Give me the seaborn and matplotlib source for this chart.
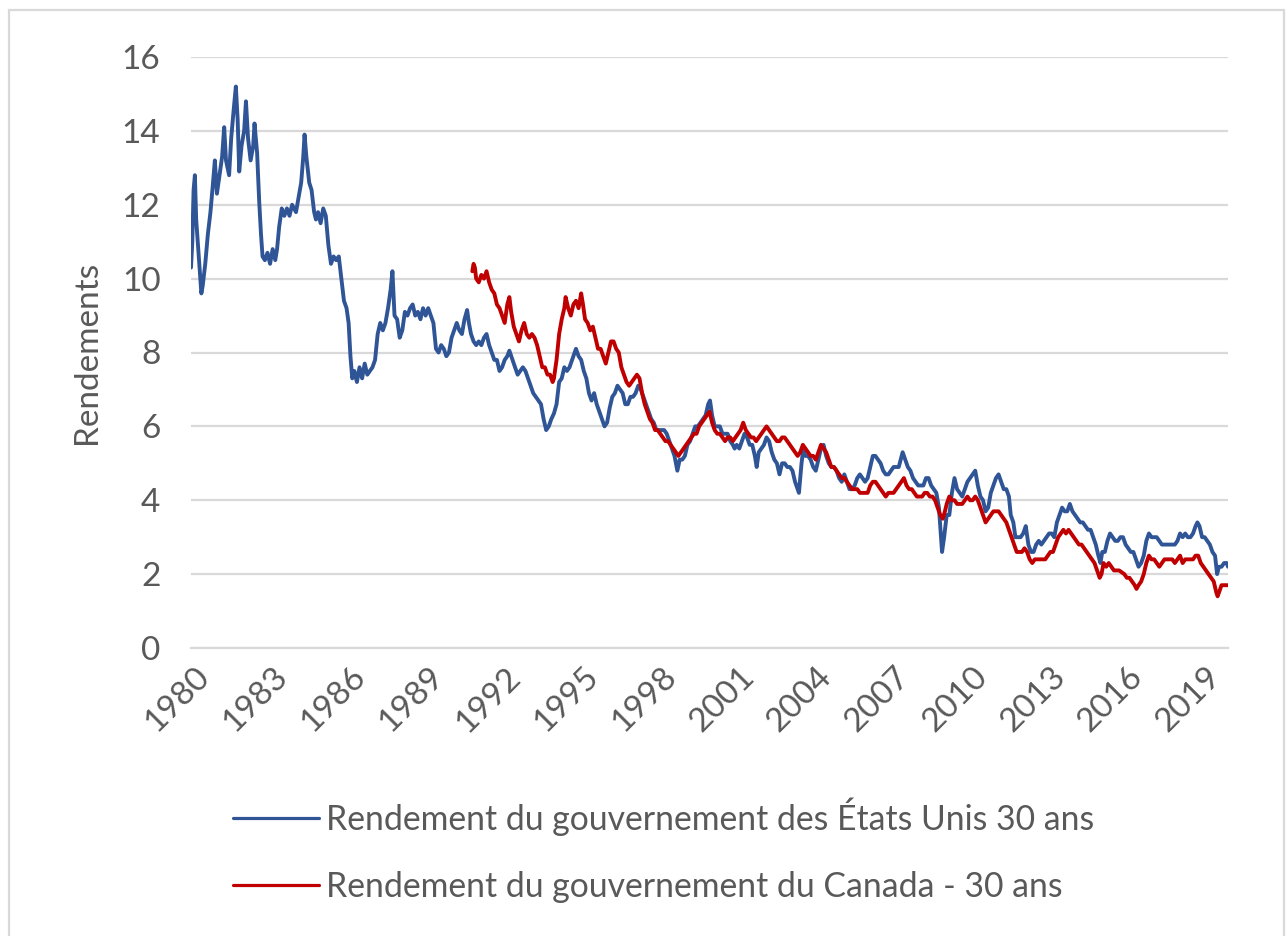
import matplotlib
matplotlib.use("Agg")
import matplotlib.pyplot as plt
import matplotlib.transforms as mtransforms
from matplotlib.patches import Rectangle
import seaborn as sns
import pandas as pd

# ---------------- data ----------------
us_label = "Rendement du gouvernement des États Unis 30 ans"
ca_label = "Rendement du gouvernement du Canada - 30 ans"

us_years = [
    1980.00, 1980.05, 1980.10, 1980.15, 1980.20, 1980.30, 1980.40, 1980.45, 1980.55, 1980.65,
    1980.75, 1980.85, 1980.92, 1981.00, 1981.10, 1981.20, 1981.28, 1981.35, 1981.47, 1981.55,
    1981.65, 1981.73, 1981.80, 1981.86, 1981.95, 1982.05, 1982.12, 1982.20, 1982.30, 1982.40,
    1982.45, 1982.55, 1982.63, 1982.70, 1982.76, 1982.85, 1982.95, 1983.05, 1983.15, 1983.25,
    1983.32, 1983.40, 1983.50, 1983.60, 1983.70, 1983.80, 1983.90, 1984.05, 1984.15, 1984.25,
    1984.33, 1984.38, 1984.45, 1984.56, 1984.65, 1984.75, 1984.82, 1984.90, 1985.00, 1985.10,
    1985.20, 1985.30, 1985.40, 1985.50, 1985.60, 1985.70, 1985.80, 1985.90, 1986.00, 1986.08,
    1986.15, 1986.22, 1986.30, 1986.40, 1986.50, 1986.60, 1986.70, 1986.80, 1986.90, 1987.00,
    1987.10, 1987.20, 1987.30, 1987.40, 1987.50, 1987.60, 1987.70, 1987.77, 1987.85, 1987.95,
    1988.05, 1988.15, 1988.25, 1988.35, 1988.45, 1988.55, 1988.65, 1988.75, 1988.85, 1988.95,
    1989.05, 1989.15, 1989.25, 1989.35, 1989.45, 1989.55, 1989.65, 1989.75, 1989.85, 1989.95,
    1990.05, 1990.15, 1990.25, 1990.35, 1990.45, 1990.55, 1990.65, 1990.72, 1990.80, 1990.90,
    1991.00, 1991.10, 1991.20, 1991.30, 1991.40, 1991.50, 1991.60, 1991.70, 1991.80, 1991.90,
    1992.00, 1992.10, 1992.20, 1992.28, 1992.40, 1992.50, 1992.60, 1992.70, 1992.80, 1992.90,
    1993.00, 1993.10, 1993.20, 1993.30, 1993.40, 1993.50, 1993.60, 1993.70, 1993.80, 1993.90,
    1994.00, 1994.10, 1994.20, 1994.30, 1994.40, 1994.50, 1994.60, 1994.70, 1994.80, 1994.85,
    1994.95, 1995.05, 1995.15, 1995.25, 1995.35, 1995.45, 1995.55, 1995.65, 1995.75, 1995.85,
    1995.95, 1996.05, 1996.15, 1996.25, 1996.35, 1996.45, 1996.55, 1996.65, 1996.75, 1996.85,
    1996.95, 1997.05, 1997.15, 1997.25, 1997.35, 1997.45, 1997.55, 1997.65, 1997.75, 1997.85,
    1997.95, 1998.05, 1998.15, 1998.25, 1998.35, 1998.45, 1998.55, 1998.65, 1998.76, 1998.85,
    1998.95, 1999.05, 1999.15, 1999.25, 1999.35, 1999.45, 1999.55, 1999.65, 1999.75, 1999.85,
    1999.95, 2000.02, 2000.10, 2000.20, 2000.30, 2000.40, 2000.50, 2000.60, 2000.70, 2000.80,
    2000.90, 2000.97, 2001.05, 2001.15, 2001.25, 2001.35, 2001.45, 2001.55, 2001.65, 2001.75,
    2001.82, 2001.90, 2002.00, 2002.10, 2002.20, 2002.30, 2002.40, 2002.50, 2002.60, 2002.70,
    2002.80, 2002.90, 2003.00, 2003.10, 2003.20, 2003.30, 2003.40, 2003.45, 2003.55, 2003.62,
    2003.70, 2003.80, 2003.90, 2004.00, 2004.10, 2004.20, 2004.30, 2004.40, 2004.50, 2004.60,
    2004.70, 2004.80, 2004.90, 2005.00, 2005.10, 2005.20, 2005.30, 2005.40, 2005.50, 2005.60,
    2005.70, 2005.80, 2005.90, 2006.00, 2006.10, 2006.20, 2006.30, 2006.40, 2006.50, 2006.60,
    2006.70, 2006.80, 2006.90, 2007.00, 2007.10, 2007.20, 2007.30, 2007.45, 2007.55, 2007.65,
    2007.75, 2007.85, 2007.95, 2008.05, 2008.15, 2008.25, 2008.35, 2008.45, 2008.55, 2008.65,
    2008.75, 2008.85, 2008.92, 2008.97, 2009.05, 2009.15, 2009.25, 2009.35, 2009.45, 2009.55,
    2009.65, 2009.75, 2009.85, 2009.95, 2010.05, 2010.15, 2010.25, 2010.35, 2010.45, 2010.55,
    2010.65, 2010.75, 2010.85, 2010.95, 2011.05, 2011.15, 2011.25, 2011.35, 2011.45, 2011.55,
    2011.62, 2011.72, 2011.80, 2011.90, 2012.00, 2012.10, 2012.20, 2012.30, 2012.40, 2012.50,
    2012.60, 2012.70, 2012.80, 2012.90, 2013.00, 2013.10, 2013.20, 2013.30, 2013.40, 2013.50,
    2013.60, 2013.70, 2013.80, 2013.90, 2014.00, 2014.10, 2014.20, 2014.30, 2014.40, 2014.50,
    2014.60, 2014.70, 2014.80, 2014.90, 2015.00, 2015.08, 2015.15, 2015.25, 2015.35, 2015.45,
    2015.55, 2015.65, 2015.75, 2015.85, 2015.95, 2016.05, 2016.15, 2016.25, 2016.35, 2016.45,
    2016.55, 2016.65, 2016.75, 2016.85, 2016.95, 2017.05, 2017.15, 2017.25, 2017.35, 2017.45,
    2017.55, 2017.65, 2017.75, 2017.85, 2017.95, 2018.05, 2018.15, 2018.25, 2018.35, 2018.45,
    2018.55, 2018.65, 2018.75, 2018.82, 2018.90, 2019.00, 2019.10, 2019.20, 2019.30, 2019.40,
    2019.50, 2019.58, 2019.65, 2019.75, 2019.85, 2019.95, 2020.00,
]
us_yield = [
    10.3, 11.0, 12.4, 12.8, 11.6, 10.6, 9.6, 9.8, 10.4, 11.2,
    11.8, 12.6, 13.2, 12.3, 12.8, 13.3, 14.1, 13.2, 12.8, 13.8,
    14.6, 15.2, 14.3, 12.9, 13.6, 14.0, 14.8, 13.8, 13.2, 13.6,
    14.2, 13.4, 12.1, 11.2, 10.6, 10.5, 10.7, 10.4, 10.8, 10.5,
    10.8, 11.4, 11.9, 11.7, 11.9, 11.7, 12.0, 11.8, 12.2, 12.6,
    13.3, 13.9, 13.3, 12.6, 12.4, 11.8, 11.6, 11.8, 11.5, 11.9,
    11.7, 10.9, 10.4, 10.6, 10.5, 10.6, 10.0, 9.4, 9.2, 8.8,
    7.9, 7.3, 7.5, 7.2, 7.6, 7.3, 7.7, 7.4, 7.5, 7.6,
    7.8, 8.5, 8.8, 8.6, 8.8, 9.2, 9.7, 10.2, 9.0, 8.9,
    8.4, 8.6, 9.1, 9.0, 9.2, 9.3, 9.0, 9.1, 8.9, 9.2,
    9.0, 9.2, 9.0, 8.8, 8.1, 8.0, 8.2, 8.1, 7.9, 8.0,
    8.4, 8.6, 8.8, 8.6, 8.5, 8.9, 9.15, 8.8, 8.5, 8.3,
    8.2, 8.3, 8.2, 8.4, 8.5, 8.2, 8.0, 7.8, 7.8, 7.5,
    7.6, 7.8, 7.9, 8.05, 7.8, 7.6, 7.4, 7.5, 7.6, 7.5,
    7.3, 7.1, 6.9, 6.8, 6.7, 6.6, 6.2, 5.9, 6.0, 6.2,
    6.35, 6.6, 7.2, 7.3, 7.6, 7.5, 7.6, 7.8, 8.0, 8.1,
    7.9, 7.8, 7.5, 7.3, 6.9, 6.7, 6.9, 6.6, 6.4, 6.2,
    6.0, 6.1, 6.5, 6.8, 6.9, 7.1, 7.0, 6.9, 6.6, 6.6,
    6.8, 6.8, 6.9, 7.1, 7.0, 6.8, 6.6, 6.4, 6.2, 6.1,
    5.9, 5.9, 5.9, 5.9, 5.8, 5.6, 5.4, 5.2, 4.8, 5.1,
    5.1, 5.2, 5.5, 5.6, 5.8, 6.0, 6.0, 6.1, 6.2, 6.3,
    6.6, 6.7, 6.3, 6.0, 6.0, 6.0, 5.8, 5.8, 5.8, 5.6,
    5.5, 5.4, 5.5, 5.4, 5.6, 5.8, 5.7, 5.5, 5.5, 5.2,
    4.9, 5.3, 5.4, 5.5, 5.7, 5.6, 5.3, 5.1, 5.0, 4.7,
    5.0, 5.0, 4.9, 4.9, 4.8, 4.5, 4.3, 4.2, 5.0, 5.4,
    5.2, 5.2, 5.1, 4.9, 4.8, 5.1, 5.4, 5.5, 5.2, 5.0,
    4.9, 4.9, 4.8, 4.6, 4.5, 4.7, 4.5, 4.3, 4.3, 4.4,
    4.6, 4.7, 4.6, 4.5, 4.6, 4.9, 5.2, 5.2, 5.1, 5.0,
    4.8, 4.7, 4.7, 4.8, 4.9, 4.9, 4.9, 5.3, 5.1, 4.9,
    4.8, 4.6, 4.5, 4.4, 4.4, 4.4, 4.6, 4.6, 4.4, 4.3,
    4.2, 3.8, 3.1, 2.6, 3.0, 3.6, 3.6, 4.2, 4.6, 4.3,
    4.2, 4.1, 4.3, 4.5, 4.6, 4.7, 4.8, 4.4, 4.1, 4.0,
    3.7, 3.8, 4.2, 4.4, 4.6, 4.7, 4.5, 4.3, 4.3, 4.1,
    3.6, 3.4, 3.0, 3.0, 3.0, 3.1, 3.3, 2.8, 2.6, 2.6,
    2.8, 2.9, 2.8, 2.9, 3.0, 3.1, 3.1, 3.0, 3.4, 3.6,
    3.8, 3.7, 3.7, 3.9, 3.7, 3.6, 3.5, 3.4, 3.4, 3.3,
    3.2, 3.2, 3.0, 2.8, 2.5, 2.3, 2.6, 2.6, 2.9, 3.1,
    3.0, 2.9, 2.9, 3.0, 3.0, 2.8, 2.7, 2.6, 2.6, 2.4,
    2.2, 2.3, 2.5, 2.9, 3.1, 3.0, 3.0, 3.0, 2.9, 2.8,
    2.8, 2.8, 2.8, 2.8, 2.8, 2.9, 3.1, 3.0, 3.1, 3.0,
    3.0, 3.1, 3.3, 3.4, 3.3, 3.0, 3.0, 2.9, 2.8, 2.6,
    2.5, 2.0, 2.2, 2.2, 2.3, 2.3, 2.2,
]

ca_years = [
    1990.85, 1990.90, 1990.95, 1991.00, 1991.10, 1991.20, 1991.30, 1991.40, 1991.50, 1991.60,
    1991.70, 1991.80, 1991.90, 1992.00, 1992.10, 1992.20, 1992.28, 1992.35, 1992.45, 1992.55,
    1992.65, 1992.75, 1992.85, 1992.95, 1993.05, 1993.15, 1993.25, 1993.35, 1993.45, 1993.55,
    1993.65, 1993.75, 1993.85, 1993.95, 1994.00, 1994.10, 1994.20, 1994.30, 1994.40, 1994.45,
    1994.55, 1994.65, 1994.75, 1994.85, 1994.95, 1995.05, 1995.12, 1995.20, 1995.30, 1995.40,
    1995.50, 1995.60, 1995.70, 1995.80, 1995.90, 1996.00, 1996.10, 1996.20, 1996.30, 1996.40,
    1996.50, 1996.60, 1996.70, 1996.80, 1996.90, 1997.00, 1997.10, 1997.20, 1997.30, 1997.40,
    1997.50, 1997.60, 1997.70, 1997.80, 1997.90, 1998.00, 1998.10, 1998.20, 1998.30, 1998.40,
    1998.50, 1998.60, 1998.70, 1998.80, 1998.90, 1999.00, 1999.10, 1999.20, 1999.30, 1999.40,
    1999.50, 1999.60, 1999.70, 1999.80, 1999.90, 2000.00, 2000.10, 2000.20, 2000.30, 2000.40,
    2000.50, 2000.60, 2000.70, 2000.80, 2000.90, 2001.00, 2001.10, 2001.20, 2001.30, 2001.40,
    2001.50, 2001.60, 2001.70, 2001.80, 2001.90, 2002.00, 2002.10, 2002.20, 2002.30, 2002.40,
    2002.50, 2002.60, 2002.70, 2002.80, 2002.90, 2003.00, 2003.10, 2003.20, 2003.30, 2003.40,
    2003.50, 2003.60, 2003.70, 2003.80, 2003.90, 2004.00, 2004.10, 2004.20, 2004.30, 2004.40,
    2004.50, 2004.60, 2004.70, 2004.80, 2004.90, 2005.00, 2005.10, 2005.20, 2005.30, 2005.40,
    2005.50, 2005.60, 2005.70, 2005.80, 2005.90, 2006.00, 2006.10, 2006.20, 2006.30, 2006.40,
    2006.50, 2006.60, 2006.70, 2006.80, 2006.90, 2007.00, 2007.10, 2007.20, 2007.30, 2007.40,
    2007.50, 2007.60, 2007.70, 2007.80, 2007.90, 2008.00, 2008.10, 2008.20, 2008.30, 2008.40,
    2008.50, 2008.60, 2008.70, 2008.80, 2008.90, 2009.00, 2009.08, 2009.15, 2009.25, 2009.35,
    2009.45, 2009.55, 2009.65, 2009.75, 2009.85, 2009.95, 2010.05, 2010.15, 2010.25, 2010.35,
    2010.45, 2010.55, 2010.65, 2010.75, 2010.85, 2010.95, 2011.05, 2011.15, 2011.25, 2011.35,
    2011.45, 2011.55, 2011.65, 2011.75, 2011.85, 2011.95, 2012.05, 2012.15, 2012.25, 2012.35,
    2012.45, 2012.55, 2012.65, 2012.75, 2012.85, 2012.95, 2013.05, 2013.15, 2013.25, 2013.35,
    2013.45, 2013.55, 2013.65, 2013.75, 2013.85, 2013.95, 2014.05, 2014.15, 2014.25, 2014.35,
    2014.45, 2014.55, 2014.65, 2014.75, 2014.85, 2014.95, 2015.05, 2015.12, 2015.20, 2015.30,
    2015.40, 2015.50, 2015.60, 2015.70, 2015.80, 2015.90, 2016.00, 2016.10, 2016.20, 2016.30,
    2016.40, 2016.47, 2016.55, 2016.65, 2016.75, 2016.85, 2016.95, 2017.05, 2017.15, 2017.25,
    2017.35, 2017.45, 2017.55, 2017.65, 2017.75, 2017.85, 2017.95, 2018.05, 2018.15, 2018.25,
    2018.35, 2018.45, 2018.55, 2018.65, 2018.75, 2018.85, 2018.95, 2019.05, 2019.15, 2019.25,
    2019.35, 2019.45, 2019.55, 2019.60, 2019.65, 2019.75, 2019.85, 2019.95, 2020.00,
]
ca_yield = [
    10.2, 10.4, 10.3, 10.0, 9.9, 10.1, 10.0, 10.2, 9.9, 9.7,
    9.6, 9.3, 9.2, 9.0, 8.8, 9.3, 9.5, 9.1, 8.7, 8.5,
    8.3, 8.6, 8.8, 8.5, 8.4, 8.5, 8.4, 8.2, 7.9, 7.6,
    7.6, 7.4, 7.4, 7.2, 7.3, 7.8, 8.5, 8.9, 9.2, 9.5,
    9.2, 9.0, 9.3, 9.4, 9.2, 9.6, 9.3, 8.9, 8.8, 8.6,
    8.7, 8.4, 8.1, 8.1, 7.9, 7.7, 8.0, 8.3, 8.3, 8.1,
    8.0, 7.6, 7.4, 7.2, 7.1, 7.2, 7.3, 7.4, 7.3, 6.9,
    6.6, 6.4, 6.2, 6.1, 5.9, 5.9, 5.8, 5.7, 5.6, 5.6,
    5.5, 5.4, 5.3, 5.2, 5.3, 5.4, 5.5, 5.6, 5.7, 5.8,
    5.8, 6.0, 6.1, 6.2, 6.3, 6.4, 6.1, 5.9, 5.8, 5.8,
    5.7, 5.6, 5.7, 5.7, 5.6, 5.7, 5.8, 5.9, 6.1, 5.9,
    5.8, 5.7, 5.7, 5.6, 5.7, 5.8, 5.9, 6.0, 5.9, 5.8,
    5.7, 5.6, 5.6, 5.7, 5.7, 5.6, 5.5, 5.4, 5.3, 5.2,
    5.3, 5.5, 5.4, 5.3, 5.2, 5.2, 5.1, 5.3, 5.5, 5.4,
    5.3, 5.1, 4.9, 4.9, 4.8, 4.7, 4.6, 4.6, 4.5, 4.4,
    4.3, 4.3, 4.3, 4.2, 4.2, 4.2, 4.2, 4.4, 4.5, 4.5,
    4.4, 4.3, 4.2, 4.1, 4.2, 4.2, 4.2, 4.3, 4.4, 4.5,
    4.6, 4.4, 4.3, 4.3, 4.2, 4.1, 4.1, 4.1, 4.2, 4.2,
    4.1, 4.1, 4.0, 3.8, 3.6, 3.5, 3.7, 3.9, 4.1, 4.0,
    4.0, 3.9, 3.9, 3.9, 4.0, 4.1, 4.0, 4.0, 4.1, 4.0,
    3.8, 3.6, 3.4, 3.5, 3.6, 3.7, 3.7, 3.7, 3.6, 3.5,
    3.4, 3.2, 3.0, 2.8, 2.6, 2.6, 2.6, 2.7, 2.6, 2.4,
    2.3, 2.4, 2.4, 2.4, 2.4, 2.4, 2.5, 2.6, 2.6, 2.8,
    3.0, 3.1, 3.2, 3.1, 3.2, 3.1, 3.0, 2.9, 2.8, 2.8,
    2.7, 2.6, 2.5, 2.4, 2.3, 2.1, 1.9, 2.0, 2.3, 2.2,
    2.3, 2.2, 2.1, 2.1, 2.1, 2.05, 2.0, 1.9, 1.9, 1.8,
    1.7, 1.6, 1.7, 1.8, 2.0, 2.3, 2.5, 2.4, 2.4, 2.3,
    2.2, 2.3, 2.4, 2.4, 2.4, 2.4, 2.3, 2.4, 2.5, 2.3,
    2.4, 2.4, 2.4, 2.4, 2.5, 2.5, 2.3, 2.2, 2.1, 2.0,
    1.9, 1.8, 1.5, 1.4, 1.5, 1.7, 1.7, 1.7, 1.7,
]

x_ticks = [1980, 1983, 1986, 1989, 1992, 1995, 1998, 2001, 2004, 2007, 2010, 2013, 2016, 2019]
y_ticks = [0, 2, 4, 6, 8, 10, 12, 14, 16]
y_label = "Rendements"

# ---------------- style ----------------
sns.set_theme(style="white")
plt.rcParams["font.family"] = ["Lato", "DejaVu Sans"]
TXT = "#595959"
GRID = "#d9d9d9"
BLUE = "#2f5597"
RED = "#c00000"

W, H = 1287, 936
fig = plt.figure(figsize=(W / 100, H / 100), dpi=100)
ax = fig.add_axes([191 / W, 1 - 648 / H, (1228 - 191) / W, (648 - 57) / H])

us_df = pd.DataFrame({"annee": us_years, "rendement": us_yield})
ca_df = pd.DataFrame({"annee": ca_years, "rendement": ca_yield})

sns.lineplot(data=us_df, x="annee", y="rendement", ax=ax, color=BLUE, lw=2.8,
             label=us_label, zorder=3)
sns.lineplot(data=ca_df, x="annee", y="rendement", ax=ax, color=RED, lw=2.8,
             label=ca_label, zorder=4)

ax.set_xlim(1980, 2020)
ax.set_ylim(0, 16)
ax.set_yticks(y_ticks)
ax.set_xticks(x_ticks)
ax.set_xticklabels([str(t) for t in x_ticks])
ax.yaxis.grid(True, color=GRID, lw=1.6)
ax.xaxis.grid(False)
for s in ["left", "right", "top"]:
    ax.spines[s].set_visible(False)
ax.spines["bottom"].set_color(GRID)
ax.spines["bottom"].set_linewidth(1.6)
ax.spines["bottom"].set_zorder(1)

ax.tick_params(axis="y", length=0, pad=22, labelsize=24, labelcolor=TXT)
ax.tick_params(axis="x", direction="inout", length=17, width=1.6, color=GRID,
               pad=9, labelsize=24, labelcolor=TXT)
offset = mtransforms.ScaledTranslation(14 / 100, 0, fig.dpi_scale_trans)
for lab in ax.get_xticklabels():
    lab.set_rotation(45)
    lab.set_rotation_mode("anchor")
    lab.set_ha("right")
    lab.set_va("center")
    lab.set_transform(lab.get_transform() + offset)

ax.set_xlabel("")
ax.set_ylabel(y_label, fontsize=24, color=TXT, labelpad=14)

leg = ax.legend(loc="upper left", bbox_to_anchor=(233 / W, 1 - 797 / H),
                bbox_transform=fig.transFigure, frameon=False, fontsize=24.3,
                handlelength=2.55, handletextpad=0.2, labelspacing=1.05,
                borderpad=0, borderaxespad=0)
for t in leg.get_texts():
    t.set_color(TXT)
for l in leg.get_lines():
    l.set_linewidth(2.3)

fig.patches.append(Rectangle((9 / W, -0.05), (1284 - 9) / W, 1.05 - 10 / H,
                             transform=fig.transFigure, fill=False,
                             edgecolor=GRID, lw=1.6, zorder=0))

fig.savefig("out.png", dpi=100, facecolor="white")
